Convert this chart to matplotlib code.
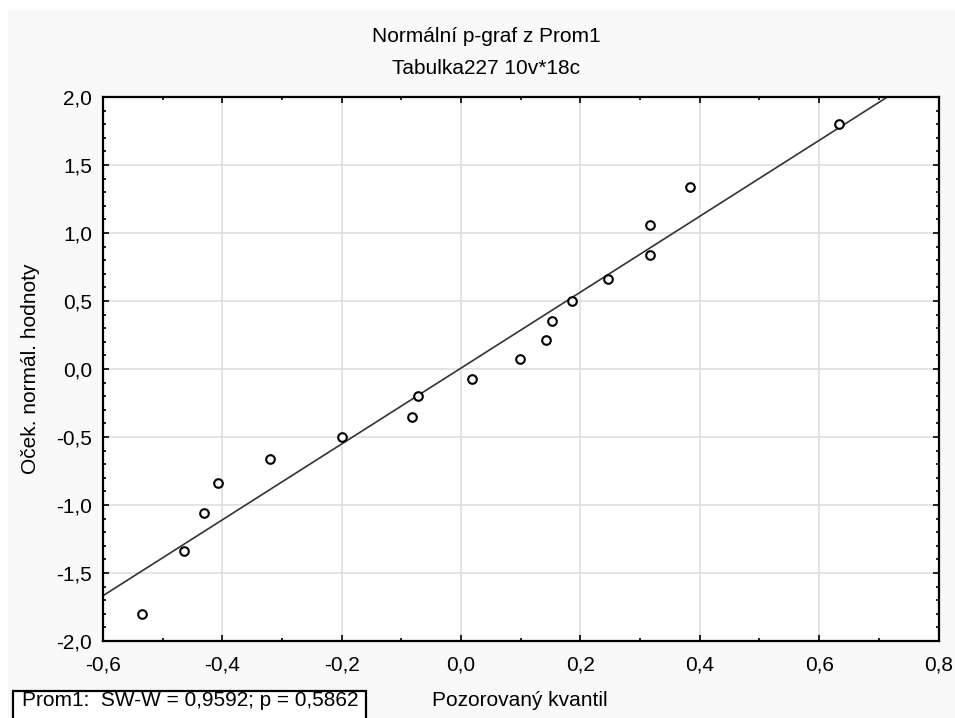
import matplotlib.pyplot as plt
import numpy as np
from matplotlib.patches import Rectangle
from matplotlib.ticker import MultipleLocator, FuncFormatter

plt.rcParams['font.family'] = ['Liberation Sans', 'DejaVu Sans']

observed = [-0.535, -0.464, -0.430, -0.407, -0.320, -0.199, -0.082, -0.072, 0.019,
            0.099, 0.143, 0.153, 0.186, 0.247, 0.317, 0.317, 0.384, 0.633]
expected = [-1.80, -1.34, -1.06, -0.84, -0.66, -0.50, -0.35, -0.20, -0.07,
            0.07, 0.21, 0.35, 0.50, 0.66, 0.84, 1.06, 1.34, 1.80]
line_intercept = 0.007
line_slope = 2.79

title1 = "Normální p-graf z Prom1"
title2 = "Tabulka227 10v*18c"
xlabel = "Pozorovaný kvantil"
ylabel = "Oček. normál. hodnoty"
stats_text = "Prom1:  SW-W = 0,9592; p = 0,5862"

W, H = 955, 718
FS = 15
fig = plt.figure(figsize=(W / 100, H / 100), dpi=100, facecolor='white')

# light grey panel behind everything
fig.patches.append(Rectangle((8 / W, 0), 1, (H - 10) / H, transform=fig.transFigure,
                             facecolor='#f9f9f9', edgecolor='none', zorder=-5))

ax = fig.add_axes([103 / W, 1 - 641 / H, (938.5 - 103) / W, (641 - 97) / H])
ax.set_zorder(1)
ax.set_facecolor('white')

xs = np.array([-0.6, 0.8])
ax.plot(xs, line_intercept + line_slope * xs, color='#333333', lw=1.2, zorder=2)
ax.plot(observed, expected, linestyle='none', marker='o', markersize=6.2,
        markerfacecolor='white', markeredgecolor='black', markeredgewidth=1.5, zorder=3)

ax.set_xlim(-0.6, 0.8)
ax.set_ylim(-2.0, 2.0)
ax.xaxis.set_major_locator(MultipleLocator(0.2))
ax.xaxis.set_minor_locator(MultipleLocator(0.1))
ax.yaxis.set_major_locator(MultipleLocator(0.5))
ax.yaxis.set_minor_locator(MultipleLocator(0.1))
fmt = FuncFormatter(lambda v, p: f"{v:.1f}".replace('.', ',').replace('-0,0', '0,0'))
ax.xaxis.set_major_formatter(fmt)
ax.yaxis.set_major_formatter(fmt)

ax.grid(True, which='major', color='#dddddd', lw=1.1, zorder=0)
ax.set_axisbelow(True)
ax.tick_params(which='both', direction='in', top=True, right=True, colors='black',
               labelsize=FS, width=1.2)
ax.tick_params(which='major', length=4)
ax.tick_params(which='minor', length=2.5)
ax.tick_params(axis='x', pad=10.5)
ax.tick_params(axis='y', pad=8)
for s in ax.spines.values():
    s.set_linewidth(1.6)
    s.set_color('black')

fig.text(486 / W, 1 - 37 / H, title1, ha='center', va='center', fontsize=FS)
fig.text(486 / W, 1 - 68 / H, title2, ha='center', va='center', fontsize=FS)
fig.text(520 / W, 1 - 700 / H, xlabel, ha='center', va='center', fontsize=FS)
fig.text(31 / W, 1 - 369 / H, ylabel, ha='center', va='center', rotation=90, fontsize=FS)

# stats box at the bottom left (cut off by the figure edge)
fig.patches.append(Rectangle((13 / W, -0.02), (366 - 13) / W, (718 - 691) / H + 0.02,
                             transform=fig.transFigure, facecolor='white',
                             edgecolor='black', lw=1.6, zorder=1))
fig.text(22 / W, 1 - 706 / H, stats_text, ha='left', va='baseline', fontsize=FS, zorder=2)

fig.savefig('out.png', dpi=100)
